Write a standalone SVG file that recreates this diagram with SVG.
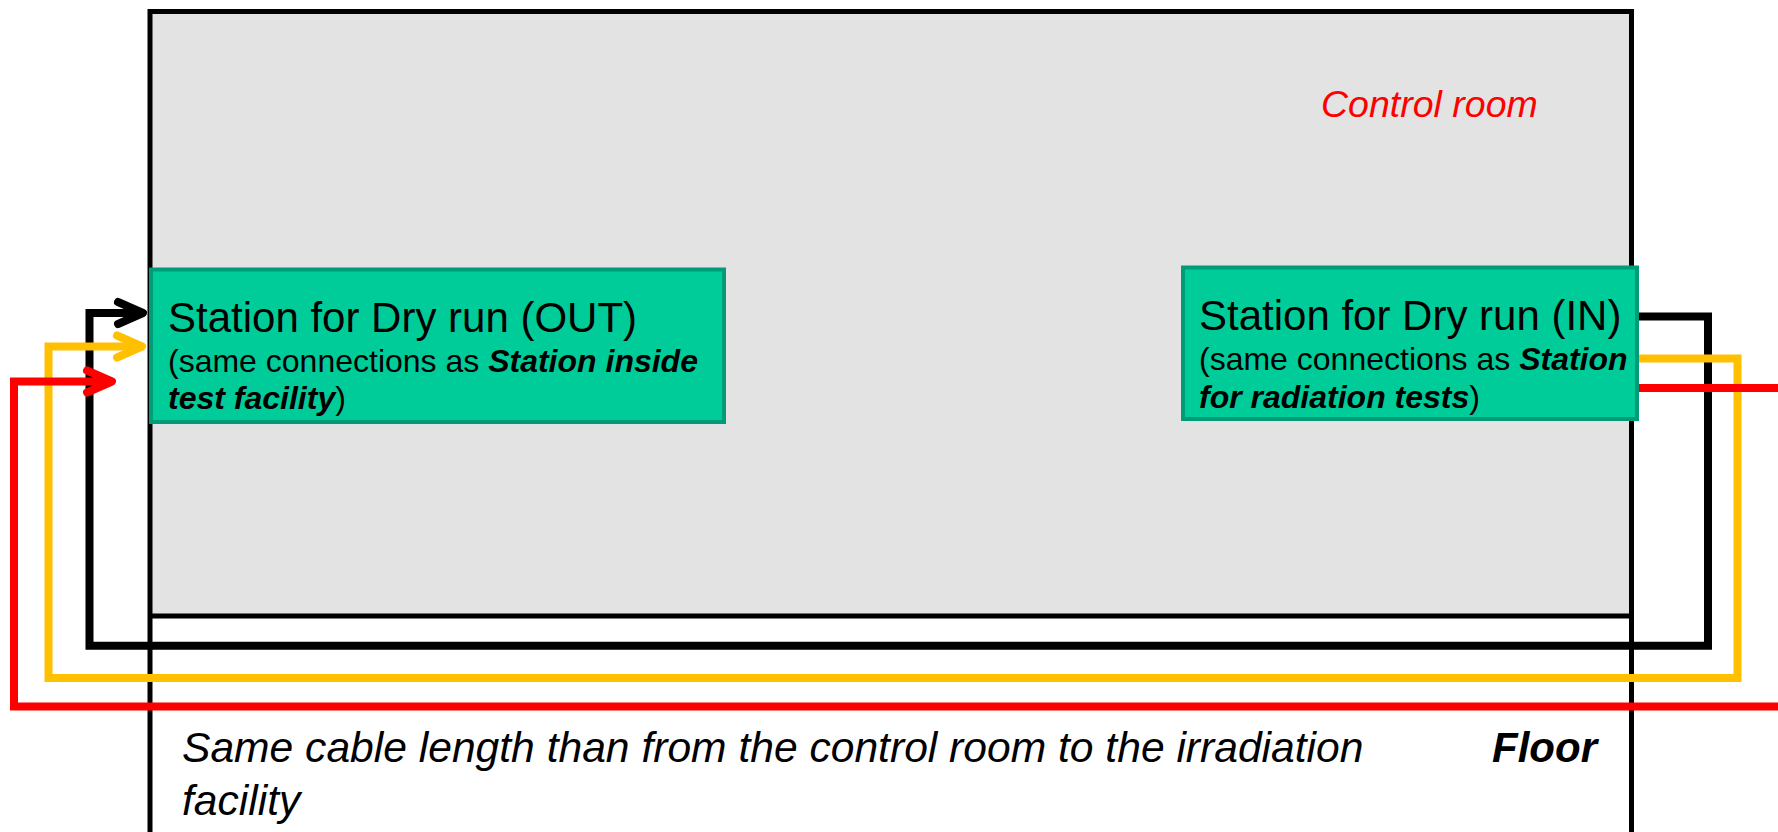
<svg xmlns="http://www.w3.org/2000/svg" width="1778" height="832" viewBox="0 0 1778 832">
  <style>
    .t { font-family: "Liberation Sans", Arial, sans-serif; fill: #000; }
    .title { font-size: 42px; }
    .sub { font-size: 32px; }
    .bi { font-weight: bold; font-style: italic; }
    .box { fill: #00CC99; stroke: #009B77; stroke-width: 4; }
    .wall { fill: none; stroke: #000; stroke-width: 5; }
    .wire { fill: none; stroke-width: 8; stroke-linejoin: miter; }
    .chev { fill: none; stroke-width: 8; stroke-linecap: round; stroke-linejoin: round; }
  </style>
  <defs>
    <marker id="chev-black" markerUnits="userSpaceOnUse" orient="auto" refX="0" refY="0" markerWidth="40" markerHeight="40" overflow="visible">
      <path class="chev" d="M-25,-11 L0,0 L-25,11" stroke="#000000"/>
    </marker>
    <marker id="chev-yellow" markerUnits="userSpaceOnUse" orient="auto" refX="0" refY="0" markerWidth="40" markerHeight="40" overflow="visible">
      <path class="chev" d="M-25,-11 L0,0 L-25,11" stroke="#FFC000"/>
    </marker>
    <marker id="chev-red" markerUnits="userSpaceOnUse" orient="auto" refX="0" refY="0" markerWidth="40" markerHeight="40" overflow="visible">
      <path class="chev" d="M-25,-11 L0,0 L-25,11" stroke="#FF0000"/>
    </marker>
  </defs>

  <rect width="1778" height="832" fill="#FFFFFF"/>

  <!-- control room and floor outline -->
  <g id="control-room">
    <rect x="150" y="11.5" width="1481.5" height="604.5" fill="#E3E3E3"/>
    <path class="wall" d="M150,832 V11.5 H1631.5 V832"/>
    <path class="wall" d="M150,616 H1631.5"/>
    <text class="t" x="1321" y="117" font-size="37.5" font-style="italic" style="fill:#FF0000">Control room</text>
  </g>

  <g id="floor">
    <text class="t" font-size="42.6" font-style="italic">
      <tspan x="182" y="762">Same cable length than from the control room to the irradiation</tspan>
      <tspan x="182" y="815">facility</tspan>
    </text>
    <text class="t bi" x="1492" y="762" font-size="42">Floor</text>
  </g>

  <!-- cables -->
  <g id="connectors">
    <path class="wire" stroke="#000000" d="M1633,316.5 H1708 V645.8 H89.5 V313 H143" marker-end="url(#chev-black)"/>
    <path class="wire" stroke="#FFC000" d="M1637,358.5 H1737.5 V678 H48.5 V346.5 H142" marker-end="url(#chev-yellow)"/>
    <path class="wire" stroke="#FF0000" d="M1637,388 H1778"/>
    <path class="wire" stroke="#FF0000" d="M1778,706.5 H14 V381.5 H112" marker-end="url(#chev-red)"/>
  </g>

  <g id="station-out">
    <rect class="box" x="151" y="269.5" width="573" height="152.5"/>
    <text class="t title" x="168" y="332">Station for Dry run (OUT)</text>
    <text class="t sub" x="168" y="372">(same connections as <tspan class="bi">Station inside</tspan></text>
    <text class="t sub" x="168" y="409"><tspan class="bi">test facility</tspan>)</text>
  </g>

  <g id="station-in">
    <rect class="box" x="1183" y="267.5" width="454" height="151.5"/>
    <text class="t title" x="1199" y="330">Station for Dry run (IN)</text>
    <text class="t sub" x="1199" y="370">(same connections as <tspan class="bi">Station</tspan></text>
    <text class="t sub" x="1199" y="408"><tspan class="bi">for radiation tests</tspan>)</text>
  </g>
</svg>
